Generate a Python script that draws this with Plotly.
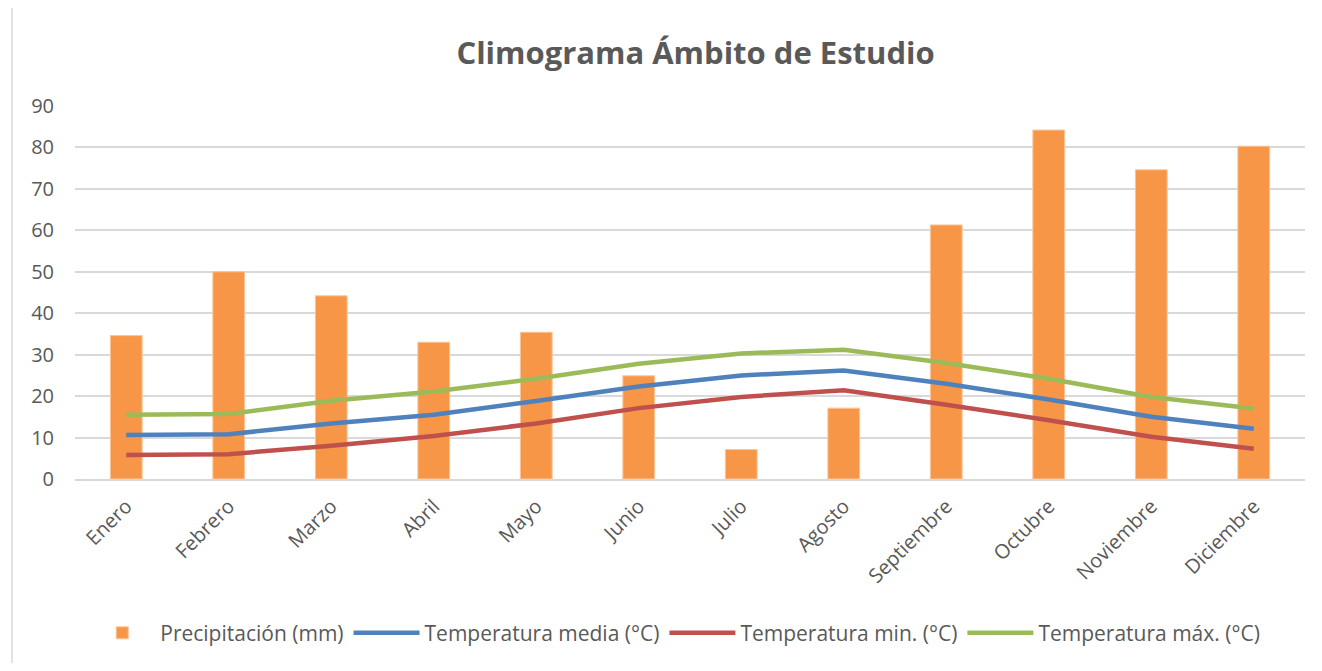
import plotly.graph_objects as go

meses = ["Enero", "Febrero", "Marzo", "Abril", "Mayo", "Junio", "Julio",
         "Agosto", "Septiembre", "Octubre", "Noviembre", "Diciembre"]
precipitacion = [34.6, 50.0, 44.2, 33.0, 35.4, 24.9, 7.1, 17.1, 61.3, 84.2, 74.6, 80.3]
temp_media = [10.6, 10.8, 13.4, 15.5, 18.8, 22.3, 25.0, 26.2, 23.0, 19.2, 15.0, 12.1]
temp_min = [5.8, 6.0, 8.0, 10.4, 13.4, 17.1, 19.8, 21.4, 17.9, 14.2, 10.2, 7.3]
temp_max = [15.5, 15.7, 18.9, 21.1, 24.2, 27.8, 30.3, 31.2, 28.0, 24.2, 19.8, 17.0]
y_ticks = [0, 10, 20, 30, 40, 50, 60, 70, 80, 90]

TXT = "#595959"

fig = go.Figure()
fig.add_trace(go.Bar(x=meses, y=precipitacion, name="Precipitación (mm)",
                     marker=dict(color="#F79646", line=dict(color="#FBC59A", width=1))))
fig.add_trace(go.Scatter(x=meses, y=temp_media, name="Temperatura media (°C)", mode="lines",
                         line=dict(color="#4F81BD", width=4.5)))
fig.add_trace(go.Scatter(x=meses, y=temp_min, name="Temperatura min. (°C)", mode="lines",
                         line=dict(color="#C0504D", width=4.5)))
fig.add_trace(go.Scatter(x=meses, y=temp_max, name="Temperatura máx. (°C)", mode="lines",
                         line=dict(color="#9BBB59", width=4.5)))

W, H = 1306, 655
L, T, R, B = 67, 98, 9, 182

fig.update_layout(
    width=W, height=H,
    margin=dict(l=L, r=R, t=T, b=B),
    paper_bgcolor="white", plot_bgcolor="white",
    bargap=0.69,
    title=dict(text="<b>Climograma Ámbito de Estudio</b>", x=0.5045, xref="paper", xanchor="center",
               y=1 - 45 / H, yref="container", yanchor="middle",
               font=dict(family="Open Sans", size=31, color=TXT)),
    xaxis=dict(tickangle=-45, tickfont=dict(family="Open Sans", size=20, color=TXT),
               showgrid=False, showline=True, linecolor="#D9D9D9", linewidth=1.5,
               ticks="", ticklabelstandoff=6),
    yaxis=dict(range=[0, 90], tickvals=y_ticks, tickfont=dict(family="Open Sans", size=20, color=TXT),
               showgrid=True, gridcolor="#D9D9D9", gridwidth=1.5, zeroline=False,
               showline=False, ticks="", ticklabelstandoff=20),
    legend=dict(orientation="h", x=0.4876, xanchor="center", y=(473 - 628) / 375, yanchor="middle",
                font=dict(family="Open Sans", size=21, color=TXT),
                itemwidth=66, tracegroupgap=0, traceorder="normal"),
    showlegend=True,
    shapes=[dict(type="rect", xref="paper", yref="paper",
                 x0=(4 - L) / 1230, x1=1.1, y0=-0.8, y1=(473 + 2) / 375,
                 line=dict(color="#D9D9D9", width=1.5), fillcolor="rgba(0,0,0,0)", layer="below")],
)

fig.write_html("out.html")
